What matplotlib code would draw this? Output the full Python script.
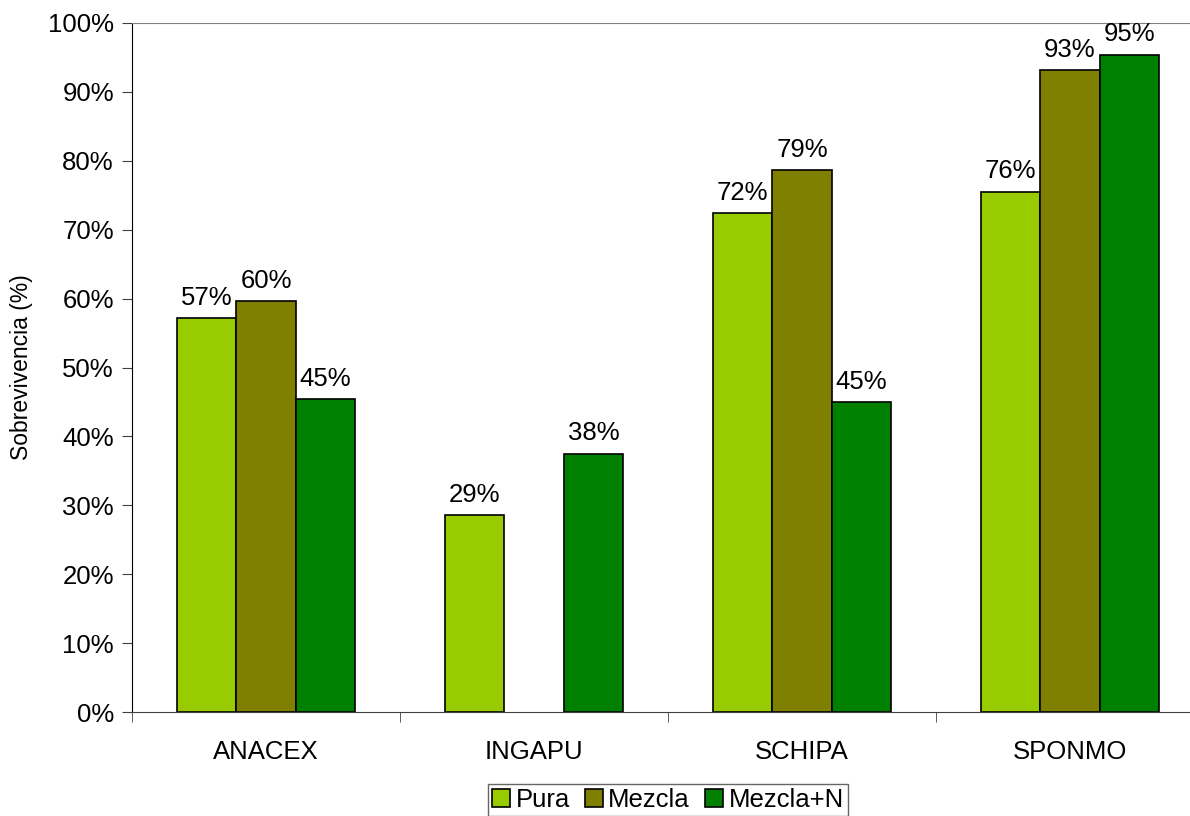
import matplotlib.pyplot as plt
import numpy as np

plt.rcParams['font.family'] = ['Liberation Sans', 'DejaVu Sans']

especies = ['ANACEX', 'INGAPU', 'SCHIPA', 'SPONMO']
series = ['Pura', 'Mezcla', 'Mezcla+N']
pura = [57.2, 28.6, 72.4, 75.5]
mezcla = [59.6, None, 78.6, 93.2]
mezcla_n = [45.4, 37.5, 45.0, 95.4]
colores = ['#99CC00', '#808000', '#008000']

fig = plt.figure(figsize=(11.9, 8.16), dpi=100)
ax = fig.add_axes([132 / 1190, 1 - 712 / 816, 1072 / 1190, 689 / 816])

x = np.arange(len(especies))
ancho = 0.222
for i, (vals, nombre, col) in enumerate(zip([pura, mezcla, mezcla_n], series, colores)):
    pos = [xi + (i - 1) * ancho for xi, v in zip(x, vals) if v is not None]
    alt = [v for v in vals if v is not None]
    barras = ax.bar(pos, alt, ancho, color=col, edgecolor='black', linewidth=1.2,
                    label=nombre, zorder=2)
    for b, v in zip(barras, alt):
        ax.annotate(f'{v:.0f}%', (b.get_x() + b.get_width() / 2, v),
                    xytext=(0, 6), textcoords='offset points',
                    ha='center', va='bottom', fontsize=18.5)

ax.set_xlim(-0.5, len(especies) - 0.5)
ax.set_ylim(0, 100)
ax.set_yticks(np.arange(0, 101, 10))
ax.set_yticklabels([f'{t}%' for t in range(0, 101, 10)], fontsize=18.5)
ax.set_xticks(x)
ax.set_xticklabels(especies, fontsize=18.5)
ax.set_xticks(np.arange(-0.5, len(especies)), minor=True)
ax.tick_params(axis='x', which='major', length=0, pad=20)
ax.tick_params(axis='x', which='minor', length=7, direction='out', color='#404040')
ax.tick_params(axis='y', length=7, direction='out', color='#404040', pad=6)

ax.spines['right'].set_visible(False)
ax.spines['top'].set_color('#808080')
ax.spines['left'].set_color('black')
ax.spines['bottom'].set_color('#404040')

fig.text(22 / 1190, 1 - 367 / 816, 'Sobrevivencia (%)', rotation=90,
         ha='center', va='center', fontsize=16.5)

leg = fig.legend(loc='upper center', bbox_to_anchor=(668 / 1190, 1 - 784 / 816),
                 ncol=3, fontsize=18.5, frameon=True, fancybox=False,
                 handlelength=0.7, handleheight=0.7, handletextpad=0.2,
                 columnspacing=0.6, borderpad=0.15, borderaxespad=0)
leg.get_frame().set_edgecolor('#404040')
leg.get_frame().set_linewidth(1)

fig.savefig('out.png', dpi=100)
